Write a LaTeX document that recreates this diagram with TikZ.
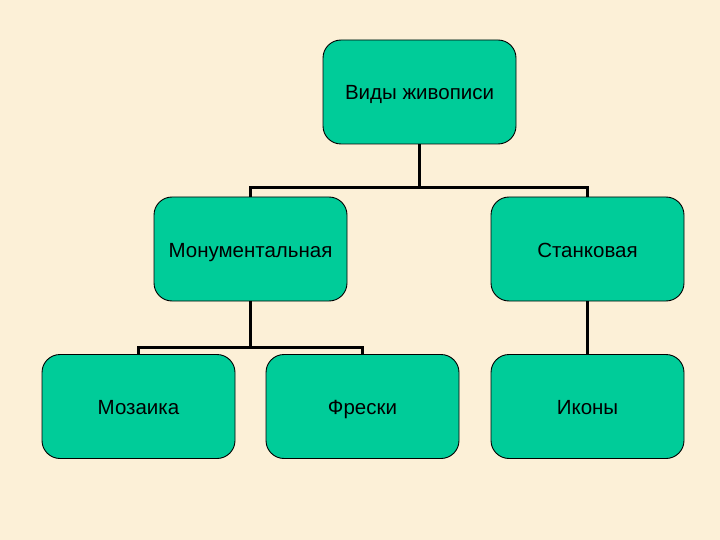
\documentclass[tikz,border=0pt]{standalone}
\usepackage{xcolor}
\usepackage{fontspec}
\usepackage{tikz}
\setmainfont{Liberation Sans}

\definecolor{paper}{RGB}{252,240,215}
\definecolor{boxgreen}{RGB}{0,204,153}

\begin{document}
\begin{tikzpicture}[x=1pt, y=-1pt,
    every node/.style={font=\fontsize{20.5}{24}\selectfont},
    kind/.style={draw=black, line width=0.9pt, fill=boxgreen, rounded corners=18pt,
        minimum width=193pt, minimum height=104pt, inner sep=0pt, align=center,
        text height=16pt, text depth=0pt},
    link/.style={line width=2.4pt, black},
    biglink/.style={line width=3.4pt, black}]
    % Page
    \fill[paper] (0,0) rectangle (720,540);
    \useasboundingbox (0,0) rectangle (720,540);

    % Root
    \node[kind] (vidy) at (419.5,92) {Виды живописи};

    % Second level
    \node[kind] (monum) at (250.5,249) {Монументальная};
    \node[kind] (stank) at (587.5,249) {Станковая};

    % Third level
    \node[kind] (mozaika) at (138.5,406.5) {Мозаика};
    \node[kind] (freski) at (362.5,406.5) {Фрески};
    \node[kind] (ikony) at (587.5,406.5) {Иконы};

    % Lines
    \draw[link] (vidy.south) -- ++(0,43) coordinate (j1);
    \draw[link] (monum.north) |- (j1) -| (stank.north);
    \draw[link] (monum.south) -- ++(0,46) coordinate (j2);
    \draw[link] (mozaika.north) |- (j2) -| (freski.north);
    \draw[biglink] (stank.south) -- (ikony.north);
\end{tikzpicture}
\end{document}
